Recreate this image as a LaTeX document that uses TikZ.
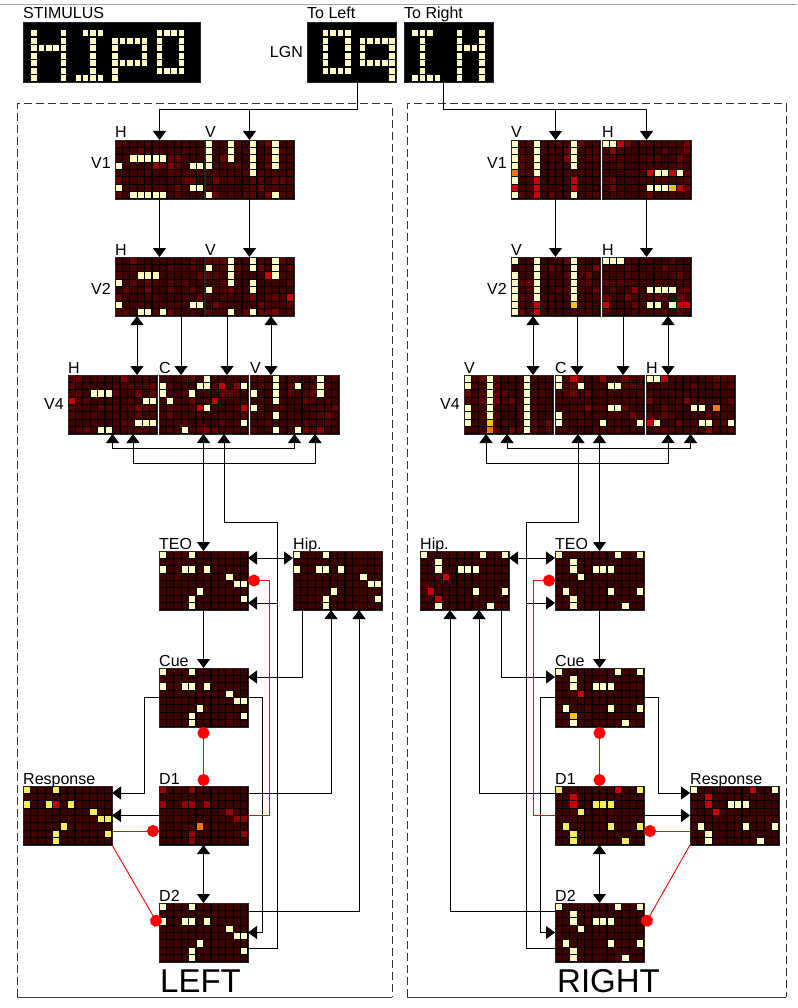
\documentclass[tikz,border=0pt]{standalone}
\usepackage{fontspec}
\setmainfont{Liberation Sans}
\usetikzlibrary{arrows.meta}

\definecolor{celllit}{HTML}{FFFFC4}
\definecolor{cellyel}{HTML}{F2EE5A}
\definecolor{cellhot}{HTML}{C80000}
\definecolor{celldim}{HTML}{960000}
\definecolor{cellgold}{HTML}{F2C417}
\definecolor{cellamber}{HTML}{F07810}

\tikzset{blob/.tip={Circle[length=12pt]}}

\newcommand{\cellw}{7.4167}
\newcommand{\cellh}{7.375}
\newcommand{\cellgap}{0.6}
% the two patterns seen by the lower maps
\newcommand{\patL}{0/0,4/0,0/2,3/2,4/2,6/2,9/3,10/4,11/4,5/5,4/6,11/6,4/7}
\newcommand{\patR}{0/0,8/0,11/0,2/1,2/2,5/2,6/2,7/2,3/3,1/5,7/5,11/5,2/6,2/7,9/7}

% dark background cells of a map: node, seed, spread
\newcommand{\cellsbg}[3]{%
  \pgfmathsetseed{#2}%
  \foreach \col in {0,...,11}{%
    \foreach \row in {0,...,7}{%
      \pgfmathtruncatemacro{\shadeval}{24+#3*rnd*rnd*rnd}%
      \fill[red!\shadeval!black] ([shift={(\col*\cellw+\cellgap,\row*\cellh+\cellgap)}]#1.north west)
        rectangle ++(\cellw-2*\cellgap,\cellh-2*\cellgap);}}}

% active cells: node, colour, list col/row
\newcommand{\litcells}[3]{%
  \edef\celllist{#3}%
  \foreach \col/\row in \celllist{%
    \fill[#2] ([shift={(\col*\cellw+\cellgap,\row*\cellh+\cellgap)}]#1.north west)
      rectangle ++(\cellw-2*\cellgap,\cellh-2*\cellgap);}}

\begin{document}
\begin{tikzpicture}[x=1pt,y=-1pt,
    mapbox/.style={draw=black!85,fill=black,line width=0.6pt,minimum width=89pt,minimum height=59pt,inner sep=0pt,outer sep=0pt,anchor=north west},
    lbl/.style={font=\fontsize{16}{16}\selectfont,inner sep=0pt,anchor=base west},
    sidelbl/.style={font=\fontsize{16}{16}\selectfont,inner sep=0pt,anchor=east},
    hemlabel/.style={font=\fontsize{33}{33}\selectfont,inner sep=0pt,anchor=base},
    wire/.style={line width=1pt},
    inh/.style={red,line width=0.9pt,-blob},
    hemi/.style={black!80,line width=1pt,dash pattern=on 8pt off 4pt},
    >={Triangle[width=13pt,length=9pt]}]
  \fill[white] (0,0) rectangle (797,1008);
  \useasboundingbox (0,0) rectangle (797,1008);
  \draw[black!35] (0,4) -- (797,4);

  % hemispheres
  \draw[hemi] (17,997) -- (17,104) -- (392,104) -- (392,997);
  \draw[black!75,line width=1pt] (17,997) -- (392,997);
  \draw[hemi] (407,997) -- (407,104) -- (786,104) -- (786,997);
  \draw[black!75,line width=1pt] (407,997) -- (786,997);

  % stimulus and LGN
  \node[mapbox,minimum width=177pt,minimum height=60pt] (stim) at (23,22) {};
  \node[mapbox,minimum height=60pt] (lgnL) at (307,22) {};
  \node[mapbox,minimum height=60pt] (lgnR) at (404,22) {};
  \begin{scope}
    \def\cellw{7.375}\def\cellh{7.5}\def\cellgap{0.9}
    \litcells{stim}{celllit}{1/1,1/2,1/3,1/4,1/5,1/6,1/7,5/1,5/2,5/3,5/4,5/5,5/6,5/7,2/3,3/3,4/3,
      8/1,9/1,10/1,9/2,9/3,9/4,9/5,9/6,7/7,8/7,9/7,10/7,
      12/2,12/3,12/4,12/5,12/6,12/7,13/2,14/2,15/2,16/2,16/3,16/4,16/5,13/5,14/5,15/5,
      18/1,18/2,18/3,18/4,18/5,18/6,21/1,21/2,21/3,21/4,21/5,21/6,19/1,20/1,19/6,20/6}
    \def\cellw{7.4167}
    \litcells{lgnL}{celllit}{2/1,2/2,2/3,2/4,2/5,2/6,5/1,5/2,5/3,5/4,5/5,5/6,3/1,4/1,3/6,4/6,
      7/2,7/3,7/4,7/5,8/2,9/2,10/2,11/2,11/3,11/4,11/5,11/6,11/7,8/5,9/5,10/5}
    \litcells{lgnR}{celllit}{1/1,2/1,3/1,2/2,2/3,2/4,2/5,2/6,1/7,2/7,3/7,4/7,
      7/1,7/2,7/3,7/4,7/5,7/6,7/7,10/1,10/2,10/3,10/4,10/5,10/6,10/7,8/3,9/3}
  \end{scope}
  \node[lbl] (tStim) at ([yshift=3]stim.north west) {STIMULUS};
  \node[lbl] (tToL) at ([yshift=3]lgnL.north west) {To Left};
  \node[lbl] (tToR) at ([yshift=3]lgnR.north west) {To Right};
  \node[sidelbl] (tLGN) at ([xshift=-4]lgnL.west) {LGN};

  % left hemisphere maps
  \node[mapbox] (lV1h) at (115,140) {};
  \cellsbg{lV1h}{11}{40}
  \litcells{lV1h}{celllit}{2/2,3/2,4/2,5/2,6/2,0/3,10/3,11/3,0/6,10/6,11/6,2/7,3/7,4/7,5/7,6/7}
  \node[mapbox] (lV1v) at (205,140) {};
  \cellsbg{lV1v}{12}{40}
  \litcells{lV1v}{celllit}{0/0,0/1,0/2,0/3,0/7,3/0,3/1,3/2,6/0,6/1,6/2,6/3,6/4,9/0,9/1,9/2,9/3,9/7}
  \node[mapbox] (lV2h) at (115,257) {};
  \cellsbg{lV2h}{13}{40}
  \litcells{lV2h}{celllit}{3/2,4/2,5/2,0/3,0/6,10/6,11/6,3/7,4/7,6/7}
  \node[mapbox] (lV2v) at (205,257) {};
  \cellsbg{lV2v}{14}{40}
  \litcells{lV2v}{celllit}{3/0,6/0,9/0,0/1,3/1,6/1,9/1,3/2,9/2,3/3,6/3,0/4,6/4,3/7,6/7}
  \litcells{lV2v}{cellhot}{8/2,11/5}
  \node[mapbox] (lV4h) at (68,375) {};
  \cellsbg{lV4h}{15}{40}
  \litcells{lV4h}{celllit}{3/2,4/2,5/2,10/3,11/3,9/6,10/6,11/6,4/7,5/7}
  \litcells{lV4h}{cellhot}{0/3}
  \node[mapbox] (lV4c) at (159,375) {};
  \cellsbg{lV4c}{16}{40}
  \litcells{lV4c}{celllit}{6/0,0/1,5/1,6/1,11/1,0/2,4/2,1/3,6/4,11/6,3/7}
  \litcells{lV4c}{cellhot}{8/1,7/3,5/4,11/4}
  \node[mapbox] (lV4v) at (250,375) {};
  \cellsbg{lV4v}{17}{40}
  \litcells{lV4v}{celllit}{3/0,3/1,3/2,3/3,3/5,3/7,0/2,0/4,6/1,6/7,9/0,9/1,9/2}
  \node[mapbox] (lTEO) at (159,551) {};
  \cellsbg{lTEO}{18}{8}
  \litcells{lTEO}{celllit}{\patL}
  \node[mapbox] (lHip) at (293,551) {};
  \cellsbg{lHip}{19}{8}
  \litcells{lHip}{celllit}{\patL}
  \node[mapbox] (lCue) at (159,668) {};
  \cellsbg{lCue}{20}{8}
  \litcells{lCue}{celllit}{\patL}
  \node[mapbox] (lD1) at (159,786) {};
  \cellsbg{lD1}{21}{8}
  \litcells{lD1}{celldim}{\patL}
  \litcells{lD1}{cellamber}{5/5}
  \node[mapbox] (lResp) at (23,786) {};
  \cellsbg{lResp}{22}{8}
  \litcells{lResp}{cellyel}{\patL}
  \litcells{lResp}{cellhot}{4/2}
  \node[mapbox] (lD2) at (159,903) {};
  \cellsbg{lD2}{23}{8}
  \litcells{lD2}{celllit}{\patL}

  % right hemisphere maps
  \node[mapbox] (rV1v) at (511,140) {};
  \cellsbg{rV1v}{31}{40}
  \litcells{rV1v}{celllit}{0/0,0/1,0/2,0/3,0/5,0/7,3/0,3/1,3/2,3/3,3/4,8/0,8/1,8/2,8/3,8/7}
  \litcells{rV1v}{cellamber}{0/4}
  \litcells{rV1v}{cellhot}{0/6,3/5,3/6,3/7,8/5,8/6}
  \node[mapbox] (rV1h) at (602,140) {};
  \cellsbg{rV1h}{32}{40}
  \litcells{rV1h}{celllit}{0/0,1/0,7/4,8/4,10/4,6/6,7/6,8/6}
  \litcells{rV1h}{cellgold}{9/6}
  \litcells{rV1h}{cellhot}{2/0,6/4,9/4,10/6}
  \node[mapbox] (rV2v) at (511,257) {};
  \cellsbg{rV2v}{33}{40}
  \litcells{rV2v}{celllit}{0/0,0/2,0/3,0/4,0/5,0/6,0/7,3/0,3/1,3/2,3/3,3/4,3/5,8/0,8/1,8/2,8/3,8/4,8/5}
  \litcells{rV2v}{cellgold}{8/6}
  \litcells{rV2v}{cellhot}{3/6,3/7}
  \node[mapbox] (rV2h) at (602,257) {};
  \cellsbg{rV2h}{34}{40}
  \litcells{rV2h}{celllit}{0/0,1/0,2/0,6/4,7/4,8/4,9/4,6/6,7/6,9/6}
  \litcells{rV2h}{cellhot}{0/6,10/6,11/6}
  \node[mapbox] (rV4v) at (464,375) {};
  \cellsbg{rV4v}{35}{40}
  \litcells{rV4v}{celllit}{0/0,0/1,0/4,0/5,0/6,3/0,3/1,3/2,3/3,3/4,3/5,8/0,8/1,8/2,8/3,8/4,8/5,8/6,8/7}
  \litcells{rV4v}{cellgold}{3/6}
  \litcells{rV4v}{cellamber}{3/7}
  \node[mapbox] (rV4c) at (555,375) {};
  \cellsbg{rV4c}{36}{40}
  \litcells{rV4c}{celllit}{0/0,0/1,3/1,7/1,8/1,7/4,8/4,0/5,0/6,6/6,11/6}
  \litcells{rV4c}{cellhot}{2/0}
  \node[mapbox] (rV4h) at (646,375) {};
  \cellsbg{rV4h}{37}{40}
  \litcells{rV4h}{celllit}{0/0,1/0,6/4,7/4,1/6,7/6,8/6,11/6}
  \litcells{rV4h}{cellhot}{2/0,0/6}
  \litcells{rV4h}{cellamber}{9/4}
  \node[mapbox] (rTEO) at (555,551) {};
  \cellsbg{rTEO}{38}{8}
  \litcells{rTEO}{celllit}{\patR}
  \node[mapbox] (rHip) at (420,551) {};
  \cellsbg{rHip}{39}{8}
  \litcells{rHip}{celllit}{\patR}
  \litcells{rHip}{cellhot}{3/3,1/5,2/6}
  \node[mapbox] (rCue) at (555,668) {};
  \cellsbg{rCue}{40}{8}
  \litcells{rCue}{celllit}{\patR}
  \litcells{rCue}{cellhot}{3/3}
  \litcells{rCue}{cellgold}{2/6}
  \node[mapbox] (rD1) at (555,786) {};
  \cellsbg{rD1}{41}{8}
  \litcells{rD1}{cellyel}{\patR}
  \litcells{rD1}{cellhot}{8/0,2/1,2/2}
  \node[mapbox] (rResp) at (690,786) {};
  \cellsbg{rResp}{42}{8}
  \litcells{rResp}{celllit}{\patR}
  \litcells{rResp}{cellhot}{8/0,2/1,2/2,3/3}
  \node[mapbox] (rD2) at (555,903) {};
  \cellsbg{rD2}{43}{8}
  \litcells{rD2}{celllit}{\patR}

  % map names
  \node[lbl] (lV1h-t) at ([yshift=2]lV1h.north west) {H};
  \node[lbl] (lV1v-t) at ([yshift=2]lV1v.north west) {V};
  \node[lbl] (lV2h-t) at ([yshift=2]lV2h.north west) {H};
  \node[lbl] (lV2v-t) at ([yshift=2]lV2v.north west) {V};
  \node[lbl] (lV4h-t) at ([yshift=2]lV4h.north west) {H};
  \node[lbl] (lV4c-t) at ([yshift=2]lV4c.north west) {C};
  \node[lbl] (lV4v-t) at ([yshift=2]lV4v.north west) {V};
  \node[lbl] (lTEO-t) at ([yshift=2]lTEO.north west) {TEO};
  \node[lbl] (lHip-t) at ([yshift=2]lHip.north west) {Hip.};
  \node[lbl] (lCue-t) at ([yshift=2]lCue.north west) {Cue};
  \node[lbl] (lD1-t) at ([yshift=2]lD1.north west) {D1};
  \node[lbl] (lResp-t) at ([yshift=2]lResp.north west) {Response};
  \node[lbl] (lD2-t) at ([yshift=2]lD2.north west) {D2};
  \node[sidelbl] (lV1-t) at ([xshift=-4,yshift=6.5]lV1h.west) {V1};
  \node[sidelbl] (lV2-t) at ([xshift=-4,yshift=-2.5]lV2h.west) {V2};
  \node[sidelbl] (lV4-t) at ([xshift=-4,yshift=1]lV4h.west) {V4};
  \node[hemlabel] (tLeft) at ([xshift=-3,yshift=-30]lD2.south) {LEFT};

  \node[lbl] (rV1v-t) at ([yshift=2]rV1v.north west) {V};
  \node[lbl] (rV1h-t) at ([yshift=2]rV1h.north west) {H};
  \node[lbl] (rV2v-t) at ([yshift=2]rV2v.north west) {V};
  \node[lbl] (rV2h-t) at ([yshift=2]rV2h.north west) {H};
  \node[lbl] (rV4v-t) at ([yshift=2]rV4v.north west) {V};
  \node[lbl] (rV4c-t) at ([yshift=2]rV4c.north west) {C};
  \node[lbl] (rV4h-t) at ([yshift=2]rV4h.north west) {H};
  \node[lbl] (rTEO-t) at ([yshift=2]rTEO.north west) {TEO};
  \node[lbl] (rHip-t) at ([yshift=2]rHip.north west) {Hip.};
  \node[lbl] (rCue-t) at ([yshift=2]rCue.north west) {Cue};
  \node[lbl] (rD1-t) at ([yshift=2]rD1.north west) {D1};
  \node[lbl] (rResp-t) at ([yshift=2]rResp.north west) {Response};
  \node[lbl] (rD2-t) at ([yshift=2]rD2.north west) {D2};
  \node[sidelbl] (rV1-t) at ([xshift=-4,yshift=6.5]rV1v.west) {V1};
  \node[sidelbl] (rV2-t) at ([xshift=-4,yshift=-2.5]rV2v.west) {V2};
  \node[sidelbl] (rV4-t) at ([xshift=-4,yshift=1]rV4v.west) {V4};
  \node[hemlabel] (tRight) at ([xshift=9,yshift=-30]rD2.south) {RIGHT};

  % left connections
  \draw[wire,->] ([xshift=5.5]lgnL.south) |- ([yshift=30]lV1h.north) -- (lV1h.north);
  \draw[wire,->] ([yshift=30]lV1v.north) -- (lV1v.north);
  \draw[wire,->] (lV1h.south) -- (lV2h.north);
  \draw[wire,->] (lV1v.south) -- (lV2v.north);
  \draw[wire,<->] ([xshift=-22.5]lV2h.south) -- ([xshift=24.5]lV4h.north);
  \draw[wire,->] ([xshift=21.5]lV2h.south) -- ([xshift=-22.5]lV4c.north);
  \draw[wire,->] ([xshift=-22.5]lV2v.south) -- ([xshift=23.5]lV4c.north);
  \draw[wire,<->] ([xshift=21.5]lV2v.south) -- ([xshift=-23.5]lV4v.north);
  \draw[wire,<->] (lV4h.south) |- ([yshift=-14]lV4v.south) -- (lV4v.south);
  \draw[wire,<->] ([xshift=20.5]lV4h.south) |- ([xshift=20.5,yshift=-29]lV4v.south) -- ([xshift=20.5]lV4v.south);
  \draw[wire,<->] (lV4c.south) -- (lTEO.north);
  \coordinate (lfb) at (277,522);
  \coordinate (lteoin) at ([yshift=-22.5]lTEO.east);
  \draw[wire,->] ([yshift=-15.5]lD2.east) -| (lfb) -| ([xshift=20.5]lV4c.south);
  \draw[wire,->] (lteoin -| lfb) -- (lteoin);
  \draw[wire,<->] ([yshift=22.5]lTEO.east) -- ([yshift=22.5]lHip.west);
  \draw[wire,->] (lTEO.south) -- (lCue.north);
  \draw[wire,->] ([xshift=-35.5]lHip.south) |- ([yshift=20.5]lCue.east);
  \draw[wire,->] ([yshift=22.5]lD1.east) -| ([xshift=-6.5]lHip.south);
  \draw[wire,->] ([yshift=21.5]lD2.east) -| ([xshift=21.5]lHip.south);
  \draw[wire,->] (lCue.west) -| ([xshift=32,yshift=22.5]lResp.east) -- ([yshift=22.5]lResp.east);
  \draw[wire,->] (lCue.east) -| ([xshift=14]lD2.east) -- (lD2.east);
  \draw[wire,->] (lD1.west) -- (lResp.east);
  \draw[wire,<->] (lD1.south) -- (lD2.north);
  \draw[inh] (lD1.east) -| ([xshift=21]lTEO.east) -- (lTEO.east);
  \draw[inh,blob-blob] (lCue.south) -- (lD1.north);
  \draw[inh] ([yshift=-15.5]lResp.east) -- ([yshift=-15.5]lD1.west);
  \draw[inh] (lResp.south east) -- ([yshift=6.5]lD2.west);

  % right connections
  \draw[wire,->] ([xshift=-5.5]lgnR.south) |- ([yshift=30]rV1h.north) -- (rV1h.north);
  \draw[wire,->] ([yshift=30]rV1v.north) -- (rV1v.north);
  \draw[wire,->] (rV1v.south) -- (rV2v.north);
  \draw[wire,->] (rV1h.south) -- (rV2h.north);
  \draw[wire,<->] ([xshift=-22.5]rV2v.south) -- ([xshift=24.5]rV4v.north);
  \draw[wire,->] ([xshift=21.5]rV2v.south) -- ([xshift=-22.5]rV4c.north);
  \draw[wire,->] ([xshift=-23.5]rV2h.south) -- ([xshift=23.5]rV4c.north);
  \draw[wire,<->] ([xshift=21.5]rV2h.south) -- ([xshift=-22.5]rV4h.north);
  \draw[wire,<->] ([xshift=-1.5]rV4v.south) |- ([yshift=-14]rV4h.south) -- (rV4h.south);
  \draw[wire,<->] ([xshift=-22.5]rV4v.south) |- ([xshift=-22.5,yshift=-29]rV4h.south) -- ([xshift=-22.5]rV4h.south);
  \draw[wire,<->] (rV4c.south) -- (rTEO.north);
  \coordinate (rfb) at (526,522);
  \coordinate (rteoin) at ([yshift=-22.5]rTEO.west);
  \draw[wire,->] ([yshift=-15.5]rD2.west) -| (rfb) -| ([xshift=-21.5]rV4c.south);
  \draw[wire,->] (rteoin -| rfb) -- (rteoin);
  \draw[wire,<->] ([yshift=22.5]rHip.east) -- ([yshift=22.5]rTEO.west);
  \draw[wire,->] (rTEO.south) -- (rCue.north);
  \draw[wire,->] ([xshift=36.5]rHip.south) |- ([yshift=20.5]rCue.west);
  \draw[wire,->] ([yshift=22.5]rD1.west) -| ([xshift=14.5]rHip.south);
  \draw[wire,->] ([yshift=21.5]rD2.west) -| ([xshift=-14.5]rHip.south);
  \draw[wire,->] (rCue.east) -| ([xshift=-32,yshift=22.5]rResp.west) -- ([yshift=22.5]rResp.west);
  \draw[wire,->] (rCue.west) -| ([xshift=-15]rD2.west) -- (rD2.west);
  \draw[wire,->] (rD1.east) -- (rResp.west);
  \draw[wire,<->] (rD1.south) -- (rD2.north);
  \draw[inh] (rD1.west) -| ([xshift=-22]rTEO.west) -- (rTEO.west);
  \draw[inh,blob-blob] (rCue.south) -- (rD1.north);
  \draw[inh] ([yshift=-15.5]rResp.west) -- ([yshift=-15.5]rD1.east);
  \draw[inh] (rResp.south west) -- ([yshift=6.5]rD2.east);
\end{tikzpicture}
\end{document}
